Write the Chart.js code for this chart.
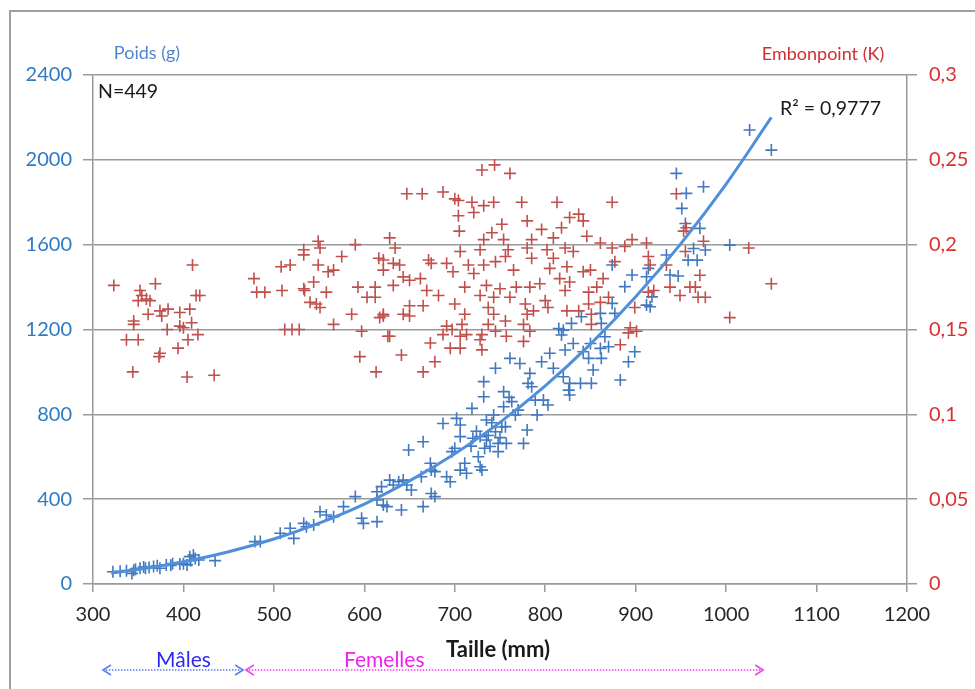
<!DOCTYPE html>
<html>
<head>
<meta charset="utf-8">
<script src="https://cdn.jsdelivr.net/npm/chart.js@4"></script>
<style>
  html, body { margin: 0; padding: 0; background: #fff; }
  canvas { display: block; }
</style>
</head>
<body>
<canvas id="myChart" width="975" height="689"></canvas>
<script>
// Poids (g) en fonction de la taille (mm)
var tailleP = [322,330,337,343,345,347,352,356,358,362,367,371,374,381,386,388,396,400,404,407,408,411,413,417,435,
  479,485,507,518,522,533,536,544,551,558,566,577,590,597,599,614,614,614,
  619,621,625,628,632,638,641,643,647,649,652,663,665,665,673,674,674,678,678,687,691,695,697,700,702,706,706,706,
  711,713,719,720,728,728,730,732,732,735,735,739,743,745,745,748,748,754,754,756,757,761,763,767,772,776,780,781,
  783,785,789,791,796,798,803,805,809,815,
  718,724,726,733,737,741,750,752,760,770,
  818,820,820,822,826,827,827,829,831,839,840,842,848,850,851,853,861,861,862,862,866,870,874,874,877,883,888,892,
  896,899,912,912,914,916,918,934,938,945,947,951,955,956,958,964,968,971,975,977,1004,1026,1050];
var poids = [58,60,63,50,65,70,74,80,74,78,82,86,74,90,88,96,94,95,90,129,110,137,120,113,110,
  200,200,239,263,215,286,270,278,341,325,317,365,412,310,286,294,396,435,
  459,372,365,490,467,482,349,490,467,632,443,506,365,671,569,537,427,530,412,757,506,482,624,640,781,750,695,537,
  569,522,828,687,695,553,537,954,883,773,679,648,797,718,1017,663,624,907,836,742,663,1064,860,797,1040,663,726,946,
  993,930,867,797,1048,867,844,1088,1017,1205,
  650,720,600,640,700,760,690,740,880,820,
  1174,977,1197,1103,914,946,891,1229,1134,946,1260,1095,1064,1134,946,1009,1276,1111,1064,1229,1166,1119,1504,1323,1276,962,1402,1048,
  1457,1095,1449,1315,1488,1307,1354,1551,1457,1936,1452,1771,1700,1842,1527,1582,1527,1677,1873,1575,1598,2141,2046];

// Embonpoint (K) en fonction de la taille (mm)
var tailleK = [323,352,369,354,350,359,363,361,374,376,383,396,407,345,345,382,396,400,409,337,350,374,373,394,405,416,344,404,434,
  410,414,418,478,481,490,509,508,518,533,533,551,549,533,534,540,547,551,558,544,549,560,566,575,590,593,603,612,612,617,621,616,621,
  566,586,597,626,595,613,512,520,528,
  730,744,761,647,664,687,700,704,719,732,743,774,813,721,704,705,752,780,796,818,741,628,634,732,754,785,809,728,759,780,802,706,
  671,674,691,715,745,756,785,809,824,621,639,632,698,721,732,765,805,643,650,662,632,711,735,750,768,783,794,816,669,682,728,743,
  761,778,800,822,650,665,700,737,621,643,650,711,743,787,803,824,737,756,776,708,691,697,628,687,706,713,728,745,757,776,673,695,
  706,730,641,678,665,783,730,780,
  874,945,827,837,842,846,861,874,888,896,822,831,877,914,916,842,850,864,827,857,848,870,837,848,851,861,899,894,901,883,851,
  920,914,938,949,960,969,977,971,912,934,953,956,975,1004,1025,1050,955,966,892];
var embonpoint = [0.176,0.173,0.177,0.170,0.167,0.168,0.167,0.159,0.161,0.158,0.162,0.160,0.162,0.155,0.153,0.150,0.152,0.151,0.154,0.144,0.144,0.136,0.134,0.139,0.144,0.147,0.125,0.122,0.123,
  0.188,0.170,0.170,0.180,0.172,0.172,0.173,0.187,0.188,0.197,0.194,0.198,0.202,0.174,0.173,0.166,0.165,0.163,0.172,0.178,0.188,0.184,0.185,0.193,0.200,0.175,0.169,0.175,0.169,0.157,0.158,0.192,0.185,
  0.153,0.159,0.149,0.146,0.134,0.125,0.150,0.150,0.150,
  0.244,0.247,0.242,0.230,0.230,0.231,0.227,0.226,0.225,0.223,0.225,0.225,0.225,0.219,0.217,0.208,0.212,0.214,0.209,0.210,0.207,0.204,0.198,0.203,0.203,0.203,0.204,0.197,0.197,0.198,0.197,0.196,
  0.191,0.189,0.189,0.188,0.190,0.193,0.192,0.192,0.187,0.191,0.188,0.189,0.184,0.183,0.188,0.185,0.186,0.181,0.179,0.180,0.176,0.175,0.176,0.174,0.175,0.175,0.177,0.180,0.173,0.170,0.170,0.169,
  0.169,0.165,0.167,0.173,0.164,0.164,0.165,0.163,0.159,0.159,0.158,0.159,0.159,0.161,0.163,0.161,0.153,0.155,0.153,0.153,0.152,0.150,0.146,0.147,0.146,0.147,0.144,0.149,0.146,0.143,0.142,0.139,
  0.139,0.138,0.135,0.131,0.125,0.149,0.147,0.159,
  0.225,0.230,0.216,0.218,0.214,0.205,0.201,0.198,0.199,0.203,0.198,0.196,0.190,0.193,0.188,0.184,0.185,0.180,0.178,0.175,0.172,0.169,0.161,0.165,0.159,0.166,0.163,0.151,0.149,0.141,0.153,
  0.173,0.172,0.175,0.170,0.175,0.169,0.169,0.182,0.201,0.188,0.208,0.210,0.202,0.157,0.198,0.177,0.196,0.175,0.148];

// courbe de tendance (puissance)
var trendTaille = [320,350,400,450,500,550,600,650,700,750,800,850,900,950,1000,1050];
var trendPoids = [52,69,105,152,212,287,377,486,614,762,934,1131,1354,1605,1886,2200];

var xTicks = [300,1200,100];
var yTicks = [0,2400,400];
var kTicks = [0,0.3,0.05];

function pts(xs, ys) {
  return xs.map(function (x, i) { return { x: x, y: ys[i] }; });
}

var grey = '#9a9a9a';
var fontFam = 'Lato, "Open Sans", sans-serif';

var extras = {
  id: 'extras',
  afterDraw: function (chart) {
    var c = chart.ctx, xs = chart.scales.x;
    c.save();
    // cadre
    c.strokeStyle = '#a0a0a0';
    c.lineWidth = 2;
    c.beginPath();
    c.moveTo(10, 689); c.lineTo(10, 11); c.lineTo(975, 11);
    c.stroke();

    c.textBaseline = 'middle';
    c.textAlign = 'center';
    c.fillStyle = '#4f86cf';
    c.font = '18px ' + fontFam;
    c.fillText('Poids (g)', 147, 53);
    c.fillStyle = '#cf2f2f';
    c.fillText('Embonpoint (K)', 823, 54);

    c.textAlign = 'left';
    c.fillStyle = '#1a1a1a';
    c.font = '19.5px ' + fontFam;
    c.fillText('N=449', 98, 92);
    c.fillText('R\u00b2 = 0,9777', 780, 109);

    c.textAlign = 'center';
    c.font = 'bold 22px ' + fontFam;
    c.fillText('Taille (mm)', 498, 650);

    c.font = '21px ' + fontFam;
    c.fillStyle = '#2b2bf0';
    c.fillText('M\u00e2les', xs.getPixelForValue(400), 660);
    c.fillStyle = '#f020f0';
    c.fillText('Femelles', xs.getPixelForValue(622), 660);

    function arrow(x0, x1, y, col) {
      c.strokeStyle = col;
      c.lineWidth = 1.5;
      c.setLineDash([1.5, 1.5]);
      c.beginPath(); c.moveTo(x0, y); c.lineTo(x1, y); c.stroke();
      c.setLineDash([]);
      c.beginPath();
      c.moveTo(x0 + 8, y - 5); c.lineTo(x0, y); c.lineTo(x0 + 8, y + 5);
      c.moveTo(x1 - 8, y - 5); c.lineTo(x1, y); c.lineTo(x1 - 8, y + 5);
      c.stroke();
    }
    arrow(xs.getPixelForValue(311), xs.getPixelForValue(466), 670, '#5a7cf0');
    arrow(xs.getPixelForValue(469), xs.getPixelForValue(1041), 670, '#f040f0');
    c.restore();
  }
};

var ctx = document.getElementById('myChart');
var myChart = new Chart(ctx, {
  type: 'scatter',
  data: {
    datasets: [
      {
        type: 'line',
        label: 'Tendance',
        data: pts(trendTaille, trendPoids),
        yAxisID: 'y',
        borderColor: '#4f8fdb',
        borderWidth: 3,
        pointRadius: 0,
        tension: 0.4,
        fill: false,
        order: 0
      },
      {
        label: 'Embonpoint (K)',
        data: pts(tailleK, embonpoint),
        yAxisID: 'y1',
        pointStyle: 'cross',
        pointRadius: 6,
        borderWidth: 1.6,
        borderColor: '#c0504d',
        backgroundColor: '#c0504d',
        order: 1
      },
      {
        label: 'Poids (g)',
        data: pts(tailleP, poids),
        yAxisID: 'y',
        pointStyle: 'cross',
        pointRadius: 6,
        borderWidth: 1.6,
        borderColor: '#4279be',
        backgroundColor: '#4279be',
        order: 2
      }
    ]
  },
  options: {
    responsive: false,
    animation: false,
    devicePixelRatio: 1,
    layout: { padding: { top: 75, left: 0, right: 0, bottom: 0 } },
    plugins: { legend: { display: false }, tooltip: { enabled: false } },
    scales: {
      x: {
        type: 'linear',
        min: xTicks[0], max: xTicks[1],
        ticks: {
          stepSize: xTicks[2], color: '#262626', padding: 11, font: { family: fontFam, size: 20 },
          callback: function (v) { return String(v); }
        },
        grid: { drawOnChartArea: false, drawTicks: true, tickLength: 8, color: grey, lineWidth: 1.5 },
        border: { display: true, color: grey, width: 1.5 },
        afterFit: function (s) { s.height = 105; }
      },
      y: {
        position: 'left',
        min: yTicks[0], max: yTicks[1],
        ticks: {
          stepSize: yTicks[2], color: '#2e7bc4', padding: 11, font: { family: fontFam, size: 20 },
          callback: function (v) { return String(v); }
        },
        grid: { color: grey, lineWidth: 1.5, tickLength: 10 },
        border: { display: true, color: grey, width: 1.5 },
        afterFit: function (s) { s.width = 93; }
      },
      y1: {
        position: 'right',
        min: kTicks[0], max: kTicks[1],
        ticks: {
          stepSize: kTicks[2], color: '#d9302f', padding: 12, font: { family: fontFam, size: 20 },
          callback: function (v) { return v === 0 ? '0' : String(+v.toFixed(2)).replace('.', ','); }
        },
        grid: { drawOnChartArea: false, color: grey, lineWidth: 1.5, tickLength: 10 },
        border: { display: true, color: grey, width: 1.5 },
        afterFit: function (s) { s.width = 68; }
      }
    }
  },
  plugins: [extras]
});
</script>
</body>
</html>
